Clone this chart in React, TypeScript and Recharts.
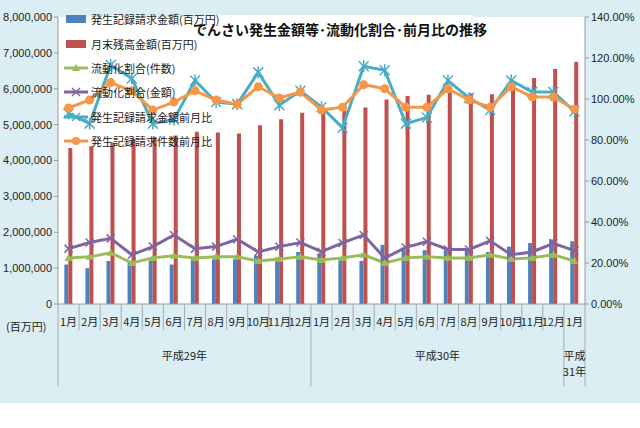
import React from "react";
import { ComposedChart, Bar, Line, XAxis, YAxis, CartesianGrid } from "recharts";

const months = [
  "1月", "2月", "3月", "4月", "5月", "6月", "7月", "8月", "9月", "10月", "11月", "12月",
  "1月", "2月", "3月", "4月", "5月", "6月", "7月", "8月", "9月", "10月", "11月", "12月",
  "1月",
];
const hasseiKingaku = [
  1.1, 1.0, 1.2, 1.2, 1.2, 1.1, 1.25, 1.25, 1.25, 1.35, 1.3, 1.45,
  1.4, 1.25, 1.2, 1.65, 1.5, 1.5, 1.5, 1.5, 1.45, 1.6, 1.7, 1.8, 1.75,
].map((v) => v * 1000000);
const zandaka = [
  4.35, 4.4, 4.5, 4.6, 4.65, 4.7, 4.8, 4.78, 4.75, 4.98, 5.15, 5.33,
  5.4, 5.45, 5.48, 5.7, 5.8, 5.83, 5.9, 5.87, 5.85, 6.05, 6.3, 6.55, 6.75,
].map((v) => v * 1000000);
const ryudoKensu = [
  22.4, 23, 25, 20, 22.5, 23.5, 22.5, 23, 23, 21, 22, 23,
  21.5, 22.5, 24, 20, 22.5, 23, 22.5, 22.5, 24, 22, 22.5, 24, 21,
];
const ryudoKingaku = [
  27, 30, 32, 24, 28, 33.7, 27, 28, 31.6, 25.4, 28, 30,
  25.5, 29.8, 33.7, 22.4, 27.6, 30.4, 26.6, 26.6, 30.8, 24, 25.4, 29.6, 26,
];
const kingakuZengetsu = [
  93, 88, 116.6, 110, 88, 90, 109, 98.5, 97.5, 113, 97, 104,
  96, 86, 116, 114, 88, 91, 109, 100.5, 94.6, 109, 103.4, 103.4, 94,
];
const kensuZengetsu = [
  95.6, 99.5, 108, 104, 94.6, 98.5, 104, 99.5, 97.5, 106, 100.5, 103.4,
  94.6, 96, 107, 105, 96, 96, 105, 99.5, 96, 106, 101, 101, 95,
];
const leftTicks = [0, 1000000, 2000000, 3000000, 4000000, 5000000, 6000000, 7000000, 8000000];
const rightTicks = [0, 20, 40, 60, 80, 100, 120, 140];

const data = months.map((m, i) => ({
  m,
  i,
  hassei: hasseiKingaku[i],
  zandaka: zandaka[i],
  kensu: ryudoKensu[i],
  kingaku: ryudoKingaku[i],
  kinZen: kingakuZengetsu[i],
  kenZen: kensuZengetsu[i],
}));

const C = {
  blue: "#4f81bd",
  red: "#c0504d",
  green: "#9bbb59",
  purple: "#8064a2",
  teal: "#4bacc6",
  orange: "#f79646",
};
const font = "'Noto Sans CJK JP', sans-serif";
const BAND = 527 / 25;

const Tri = (p: any) => (
  <polygon points={`${p.cx},${p.cy - 4} ${p.cx - 4},${p.cy + 3} ${p.cx + 4},${p.cy + 3}`} fill={C.green} />
);
const Cross = (color: string) => (p: any) => (
  <g stroke={color} strokeWidth={1.5}>
    <line x1={p.cx - 4} y1={p.cy - 4} x2={p.cx + 4} y2={p.cy + 4} />
    <line x1={p.cx - 4} y1={p.cy + 4} x2={p.cx + 4} y2={p.cy - 4} />
  </g>
);
const Star = (p: any) => (
  <g stroke={C.teal} strokeWidth={1.5}>
    <line x1={p.cx - 5} y1={p.cy - 5} x2={p.cx + 5} y2={p.cy + 5} />
    <line x1={p.cx - 5} y1={p.cy + 5} x2={p.cx + 5} y2={p.cy - 5} />
    <line x1={p.cx} y1={p.cy - 6} x2={p.cx} y2={p.cy + 6} />
  </g>
);
const Dot = (p: any) => <circle cx={p.cx} cy={p.cy} r={4.5} fill={C.orange} />;

const MonthTick = (p: any) => {
  const { x, y, payload } = p;
  const idx = payload.index;
  const left = x - BAND / 2;
  const long = idx === 0 || idx === 12 || idx === 24;
  return (
    <g>
      <line x1={left} y1={y - 8} x2={left} y2={long ? y + 74 : y + 18} stroke="#aaa" />
      {idx === 24 && <line x1={x + BAND / 2} y1={y - 8} x2={x + BAND / 2} y2={y + 74} stroke="#aaa" />}
      <text x={x} y={y + 14} textAnchor="middle" fontSize={11} fill="#222" fontFamily={font}>
        {payload.value}
      </text>
      {idx === 5 && (
        <text x={x + BAND / 2} y={y + 48} textAnchor="middle" fontSize={11} fill="#222" fontFamily={font}>
          平成29年
        </text>
      )}
      {idx === 17 && (
        <text x={x + BAND / 2} y={y + 48} textAnchor="middle" fontSize={11} fill="#222" fontFamily={font}>
          平成30年
        </text>
      )}
      {idx === 24 && (
        <text x={x} y={y + 48} textAnchor="middle" fontSize={11} fill="#222" fontFamily={font}>
          <tspan x={x}>平成</tspan>
          <tspan x={x} dy={16}>31年</tspan>
        </text>
      )}
    </g>
  );
};

const legend = [
  { label: "発生記録請求金額(百万円)", color: C.blue, kind: "bar" },
  { label: "月末残高金額(百万円)", color: C.red, kind: "bar" },
  { label: "流動化割合(件数)", color: C.green, kind: "tri" },
  { label: "流動化割合(金額)", color: C.purple, kind: "x" },
  { label: "発生記録請求金額前月比", color: C.teal, kind: "x" },
  { label: "発生記録請求件数前月比", color: C.orange, kind: "dot" },
];

const LegendMark = ({ kind, color }: { kind: string; color: string }) => {
  if (kind === "bar") return <svg width={24} height={10}><rect x={2} y={1} width={20} height={8} fill={color} /></svg>;
  return (
    <svg width={24} height={12}>
      <line x1={0} y1={6} x2={24} y2={6} stroke={color} strokeWidth={3} />
      {kind === "tri" && <polygon points="12,2 8,9 16,9" fill={color} />}
      {kind === "dot" && <circle cx={12} cy={6} r={4} fill={color} />}
      {kind === "x" && (
        <g stroke={color} strokeWidth={1.5}>
          <line x1={8} y1={2} x2={16} y2={10} />
          <line x1={8} y1={10} x2={16} y2={2} />
        </g>
      )}
    </svg>
  );
};

export default function App() {
  return (
    <div style={{ width: 640, height: 428, background: "#fff", position: "relative", fontFamily: font }}>
      <style>{"body{margin:0}"}</style>
      <div style={{ position: "absolute", left: 0, top: 0, width: 640, height: 403, background: "#dbeef4" }} />
      <div style={{ position: "absolute", left: 0, top: 0 }}>
        <ComposedChart
          width={640}
          height={403}
          data={data}
          margin={{ top: 17, right: 7, left: 8, bottom: 9 }}
          barGap={0}
          barCategoryGap="30%"
        >
          <CartesianGrid horizontal={false} vertical={false} fill="#fff" stroke="#bbb" />
          <XAxis
            dataKey="m"
            interval={0}
            height={90}
            tick={<MonthTick />}
            tickLine={false}
            axisLine={{ stroke: "#999" }}
          />
          <YAxis
            yAxisId="l"
            width={50}
            domain={[0, 8000000]}
            ticks={leftTicks}
            tickFormatter={(v) => v.toLocaleString("en-US")}
            tick={{ fontSize: 11, fill: "#222", fontFamily: "'Liberation Sans', sans-serif" }}
            tickSize={4}
            axisLine={{ stroke: "#999" }}
            tickLine={{ stroke: "#999" }}
          />
          <YAxis
            yAxisId="r"
            orientation="right"
            width={48}
            domain={[0, 140]}
            ticks={rightTicks}
            tickFormatter={(v) => `${v.toFixed(2)}%`}
            tick={{ fontSize: 11, fill: "#222", fontFamily: "'Liberation Sans Narrow', 'Liberation Sans', sans-serif" }}
            tickSize={4}
            axisLine={{ stroke: "#999" }}
            tickLine={{ stroke: "#999" }}
          />
          <Bar yAxisId="l" dataKey="hassei" fill={C.blue} isAnimationActive={false} />
          <Bar yAxisId="l" dataKey="zandaka" fill={C.red} isAnimationActive={false} />
          <Line yAxisId="r" dataKey="kensu" stroke={C.green} strokeWidth={3} dot={<Tri />} isAnimationActive={false} />
          <Line yAxisId="r" dataKey="kingaku" stroke={C.purple} strokeWidth={3} dot={Cross(C.purple)} isAnimationActive={false} />
          <Line yAxisId="r" dataKey="kinZen" stroke={C.teal} strokeWidth={3} dot={<Star />} isAnimationActive={false} />
          <Line yAxisId="r" dataKey="kenZen" stroke={C.orange} strokeWidth={3} dot={<Dot />} isAnimationActive={false} />
        </ComposedChart>
      </div>
      <div style={{ position: "absolute", left: 6, top: 318, fontSize: 11, color: "#222" }}>(百万円)</div>
      <div
        style={{
          position: "absolute",
          left: 193,
          top: 15,
          width: 280,
          height: 28,
          background: "#fff",
          fontSize: 14,
          fontWeight: "bold",
          color: "#111",
          lineHeight: "28px",
          textAlign: "center",
          whiteSpace: "nowrap",
        }}
      >
        でんさい発生金額等･流動化割合･前月比の推移
      </div>
      <div style={{ position: "absolute", left: 64, top: 7 }}>
        {legend.map((l) => (
          <div key={l.label} style={{ display: "flex", alignItems: "center", height: 24.4, fontSize: 11, color: "#222" }}>
            <LegendMark kind={l.kind} color={l.color} />
            <span style={{ marginLeft: 3, whiteSpace: "nowrap" }}>{l.label}</span>
          </div>
        ))}
      </div>
    </div>
  );
}
